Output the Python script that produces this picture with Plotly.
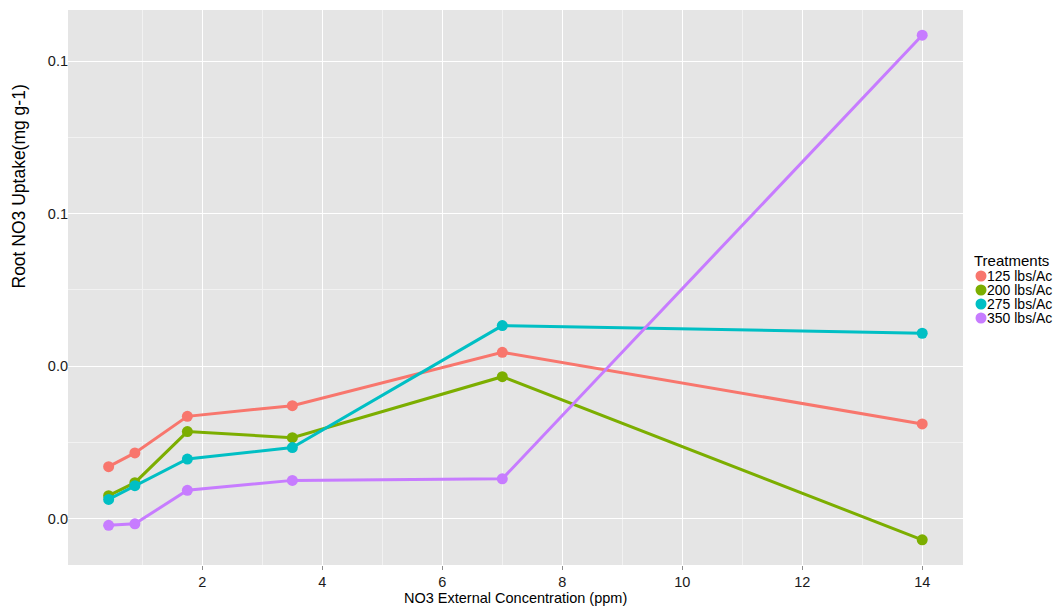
import plotly.graph_objects as go

conc = [0.4375, 0.875, 1.75, 3.5, 7, 14]
treatments = ["125 lbs/Ac", "200 lbs/Ac", "275 lbs/Ac", "350 lbs/Ac"]
uptake_125 = [0.0268, 0.0286, 0.0334, 0.0348, 0.0418, 0.0324]
uptake_200 = [0.0230, 0.0247, 0.0314, 0.0306, 0.0386, 0.0172]
uptake_275 = [0.0225, 0.0243, 0.0278, 0.0293, 0.0453, 0.0443]
uptake_350 = [0.0191, 0.0193, 0.0237, 0.0250, 0.0252, 0.0834]
colors = ["#F8766D", "#7CAE00", "#00BFC4", "#C77CFF"]

y_ticks = [0.02, 0.04, 0.06, 0.08]
y_ticktext = ["0.0", "0.0", "0.1", "0.1"]
x_ticks = [2, 4, 6, 8, 10, 12, 14]

series = [uptake_125, uptake_200, uptake_275, uptake_350]

# page has an 8px body margin; compensate so the panel lands at 68..963 x 10..565
OFF = 8
W, H = 1063 - OFF, 609 - OFF
ML, MR, MT, MB = 68 - OFF, 100, 10 - OFF, 44

fig = go.Figure()
for name, vals, col in zip(treatments, series, colors):
    fig.add_trace(go.Scatter(
        x=conc, y=vals, name=name, mode="lines+markers",
        line=dict(color=col, width=3),
        marker=dict(color=col, size=11),
        showlegend=False,
    ))

font_family = "Liberation Sans, Arial, sans-serif"

def px_x(p):
    return (p - OFF - ML) / (W - ML - MR)

def px_y(p):
    return 1 - (p - OFF - MT) / (H - MT - MB)

annotations = [
    dict(text="Treatments", x=px_x(973), y=px_y(260), xref="paper", yref="paper",
         xanchor="left", yanchor="middle", showarrow=False, borderpad=0,
         font=dict(family=font_family, size=15, color="black")),
    dict(text="NO3 External Concentration (ppm)", x=px_x(515), y=px_y(598),
         xref="paper", yref="paper", xanchor="center", yanchor="middle", showarrow=False,
         font=dict(family=font_family, size=14.5, color="black")),
    dict(text="Root NO3 Uptake(mg g-1)", x=px_x(18), y=px_y(186.5), textangle=-90,
         xref="paper", yref="paper", xanchor="center", yanchor="middle", showarrow=False,
         font=dict(family=font_family, size=17.5, color="black")),
]
shapes = []
item_y = [276, 290, 304, 318]
for name, col, yy in zip(treatments, colors, item_y):
    r = 5.5
    shapes.append(dict(
        type="circle", xref="paper", yref="paper",
        x0=px_x(981 - r), x1=px_x(981 + r), y0=px_y(yy + r), y1=px_y(yy - r),
        fillcolor=col, line=dict(color=col, width=0),
    ))
    annotations.append(dict(
        text=name, x=px_x(986), y=px_y(yy), xref="paper", yref="paper",
        xanchor="left", yanchor="middle", showarrow=False, borderpad=0,
        font=dict(family=font_family, size=14, color="black"),
    ))

fig.update_layout(
    width=W, height=H,
    margin=dict(l=ML, r=MR, t=MT, b=MB, autoexpand=False),
    paper_bgcolor="white",
    plot_bgcolor="#E5E5E5",
    font=dict(family=font_family, size=14, color="#1a1a1a"),
    showlegend=False,
    annotations=annotations,
    shapes=shapes,
    xaxis=dict(
        range=[-0.24, 14.68], tickvals=x_ticks, ticktext=[str(v) for v in x_ticks],
        showgrid=True, gridcolor="white", gridwidth=1.2, zeroline=False,
        ticks="outside", ticklen=4, tickwidth=1, tickcolor="#8c8c8c",
        ticklabelstandoff=0, automargin=False,
        tickfont=dict(size=14.5, color="#1a1a1a"),
        minor=dict(tickvals=[1, 3, 5, 7, 9, 11, 13], showgrid=True, gridcolor="#F2F2F2", gridwidth=0.6),
    ),
    yaxis=dict(
        range=[0.0139, 0.0867], tickvals=y_ticks, ticktext=y_ticktext,
        showgrid=True, gridcolor="white", gridwidth=1.2, zeroline=False,
        ticks="", ticklabelstandoff=-1, automargin=False,
        tickfont=dict(size=14.5, color="#1a1a1a"),
        minor=dict(tickvals=[0.03, 0.05, 0.07], showgrid=True, gridcolor="#F2F2F2", gridwidth=0.6),
    ),
)

fig.write_html("out.html")
